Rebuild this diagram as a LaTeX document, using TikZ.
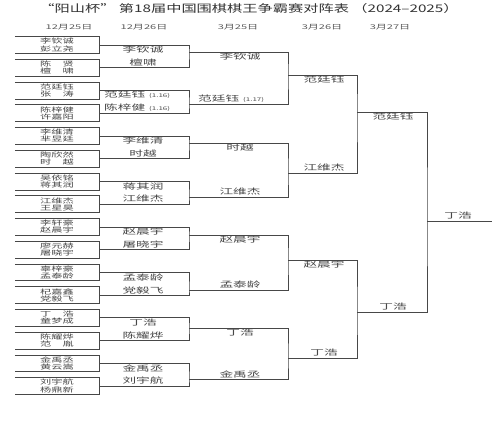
\documentclass[tikz,border=0pt]{standalone}
\usepackage{fontspec}
\usepackage{graphicx}
\setmainfont{Noto Sans CJK SC}
\newcommand\nmA[1]{\scalebox{1.7}[1]{#1}}
\newcommand\nmB[1]{\scalebox{1.75}[1]{#1}}
\newcommand\smd[1]{{\fontsize{5}{5}\selectfont\scalebox{1.6}[1]{#1}}}
\tikzset{
  ln/.style={draw=black!72, line width=0.55pt},
  pbox/.style={minimum width=84pt, minimum height=16.5pt, inner sep=0pt, align=center,
    font=\fontsize{6.6}{7.1}\selectfont, text=black!72},
  lab/.style={inner sep=0pt, font=\fontsize{7.8}{7.8}\selectfont, text=black!72},
  datelab/.style={inner sep=0pt, font=\fontsize{6.5}{6.5}\selectfont, text=black!65},
}
\begin{document}
\begin{tikzpicture}[x=1pt,y=-1pt]
\useasboundingbox[fill=white] (0,0) rectangle (500,440);
% title
\node[inner sep=0pt, font=\fontsize{10.5}{10.5}\selectfont, text=black!80] (title) at (249,9)
  {\scalebox{1.45}[1]{“阳山杯” 第18届中国围棋棋王争霸赛对阵表 （2024–2025）}};
% dates
\node[datelab] (d1) at (69,27) {\scalebox{1.7}[1]{12月25日}};
\node[datelab] (d2) at (144,27) {\scalebox{1.7}[1]{12月26日}};
\node[datelab] (d3) at (238,27) {\scalebox{1.7}[1]{3月25日}};
\node[datelab] (d4) at (322,27) {\scalebox{1.7}[1]{3月26日}};
\node[datelab] (d5) at (390,27) {\scalebox{1.7}[1]{3月27日}};
% round 1 boxes
\foreach \i/\a/\b in {1/李钦诚/彭立尧, 2/陈　贤/檀　啸, 3/范廷钰/张　涛, 4/陈梓健/许嘉阳,
  5/李维清/芈昱廷, 6/陶欣然/时　越, 7/吴依铭/蒋其润, 8/江维杰/王星昊,
  9/李轩豪/赵晨宇, 10/廖元赫/屠晓宇, 11/辜梓豪/孟泰龄, 12/杞嘉鑫/党毅飞,
  13/丁　浩/童梦成, 14/陈耀烨/范　胤, 15/金禹丞/黄云嵩, 16/刘宇航/杨鼎新} {
  \node[pbox] (b\i) at (57,{45+(\i-1)*22.73}) {\nmA{\a}\\\nmA{\b}};
  \draw[ln] (b\i.north west) -- (b\i.north east) -- (b\i.south east) -- (b\i.south west);
}
% junctions
\foreach \k/\y in {1/52, 2/104, 3/143, 4/197, 5/235, 6/290, 7/328, 8/379}
  \coordinate (j2-\k) at (189,\y);
\foreach \k/\y in {1/75, 2/173, 3/260, 4/358}
  \coordinate (j3-\k) at (288,\y);
\coordinate (j4-1) at (357,112);
\coordinate (j4-2) at (357,312);
\coordinate (j5) at (427,221);
\coordinate (fin) at (492,221);
% round 2 brackets
\foreach \k [evaluate=\k as \t using int(2*\k-1), evaluate=\k as \u using int(2*\k)] in {1,...,8}
  \draw[ln] (b\t.east) -| (j2-\k) |- (b\u.east);
% round 3
\draw[ln] (j2-1) -| (j3-1) |- (j2-2);
\draw[ln] (j2-3) -| (j3-2) |- (j2-4);
\draw[ln] (j2-5) -| (j3-3) |- (j2-6);
\draw[ln] (j2-7) -| (j3-4) |- (j2-8);
% round 4
\draw[ln] (j3-1) -| (j4-1) |- (j3-2);
\draw[ln] (j3-3) -| (j4-2) |- (j3-4);
% round 5
\draw[ln] (j4-1) -| (j5) |- (j4-2);
\draw[ln] (j5) -- (fin);
% round 2 labels
\node[lab] (w2a) at (143,50) {\nmB{李钦诚}};
\node[lab] (w2b) at (143,63) {\nmB{檀啸}};
\node[lab,anchor=west] (w2c) at (104,95) {\nmB{范廷钰}\hspace{4pt}\smd{(1.16)}};
\node[lab,anchor=west] (w2d) at (104,108) {\nmB{陈梓健}\hspace{4pt}\smd{(1.16)}};
\node[lab] (w2e) at (143,141) {\nmB{李维清}};
\node[lab] (w2f) at (143,153.5) {\nmB{时越}};
\node[lab] (w2g) at (143,186.5) {\nmB{蒋其润}};
\node[lab] (w2h) at (143,199) {\nmB{江维杰}};
\node[lab] (w2i) at (143,232) {\nmB{赵晨宇}};
\node[lab] (w2j) at (143,244.5) {\nmB{屠晓宇}};
\node[lab] (w2k) at (143,277.5) {\nmB{孟泰龄}};
\node[lab] (w2l) at (143,290) {\nmB{党毅飞}};
\node[lab] (w2m) at (143,323) {\nmB{丁浩}};
\node[lab] (w2n) at (143,335.5) {\nmB{陈耀烨}};
\node[lab] (w2o) at (143,368.5) {\nmB{金禹丞}};
\node[lab] (w2p) at (143,381) {\nmB{刘宇航}};
% round 3 labels
\node[lab] (w3a) at (240,57) {\nmB{李钦诚}};
\node[lab,anchor=west] (w3b) at (198,99) {\nmB{范廷钰}\hspace{4pt}\smd{(1.17)}};
\node[lab] (w3c) at (240,148) {\nmB{时越}};
\node[lab] (w3d) at (240,192) {\nmB{江维杰}};
\node[lab] (w3e) at (240,240) {\nmB{赵晨宇}};
\node[lab] (w3f) at (240,285) {\nmB{孟泰龄}};
\node[lab] (w3g) at (240,333) {\nmB{丁浩}};
\node[lab] (w3h) at (240,374) {\nmB{金禹丞}};
% round 4 labels
\node[lab] (w4a) at (324,80) {\nmB{范廷钰}};
\node[lab] (w4b) at (324,168) {\nmB{江维杰}};
\node[lab] (w4c) at (324,265) {\nmB{赵晨宇}};
\node[lab] (w4d) at (324,353) {\nmB{丁浩}};
% round 5 labels
\node[lab] (w5a) at (393,117) {\nmB{范廷钰}};
\node[lab] (w5b) at (393,307) {\nmB{丁浩}};
% final
\node[lab] (champ) at (458,216) {\nmB{丁浩}};
\end{tikzpicture}
\end{document}
